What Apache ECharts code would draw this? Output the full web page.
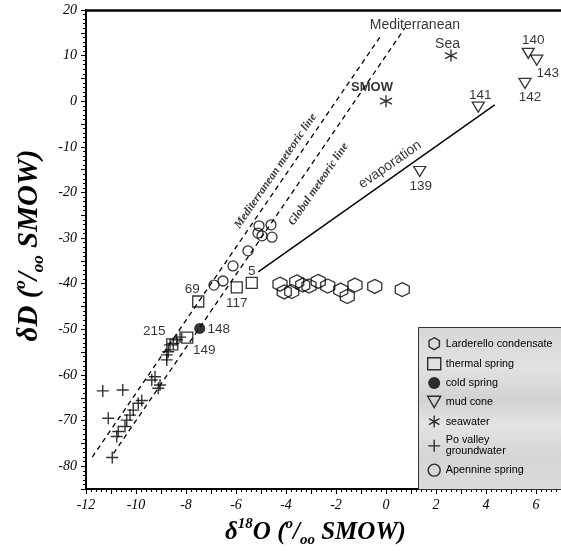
<!DOCTYPE html>
<html><head><meta charset="utf-8">
<script src="https://cdn.jsdelivr.net/npm/echarts@6/dist/echarts.min.js"></script>
<style>html,body{margin:0;padding:0;background:#fff}#c{width:561px;height:551px}</style>
</head><body><div id="c"></div>
<script>
// ---- data (δ18O, δD) ----
const larderello = [[-4.24,-40.1],[-4.07,-41.8],[-3.77,-41.7],[-3.57,-39.6],[-3.33,-40.3],[-3.08,-40.5],[-2.71,-39.5],[-2.33,-40.5],[-1.81,-41.4],[-1.55,-42.8],[-1.24,-40.3],[-0.45,-40.6],[0.65,-41.3]];
const thermal = [[-7.51,-43.9],[-5.97,-40.8],[-5.37,-39.8],[-8.55,-53.3],[-7.95,-51.8]];
const thermalNames = ['69','117','5','215','149'];
const cold = [[-7.45,-49.8]];
const coldNames = ['148'];
const mudCone = [[5.69,10.5],[6.03,9.0],[5.56,3.9],[3.69,-1.3],[1.35,-15.4]];
const mudNames = ['140','143','142','141','139'];
const seawater = [[2.6,10.0],[0.0,0.0]];
const seaNames = ['Mediterranean\nSea','SMOW'];
const poValley = [[-11.33,-63.5],[-10.53,-63.3],[-11.11,-69.5],[-10.95,-78.1],[-10.71,-72.4],[-10.77,-73.5],[-10.44,-71.3],[-10.37,-69.9],[-10.24,-68.8],[-10.11,-67.7],[-9.91,-66.2],[-9.77,-65.6],[-9.37,-61.1],[-9.24,-60.4],[-9.04,-62.2],[-9.11,-62.9],[-8.77,-56.7],[-8.77,-55.6],[-8.71,-54.9],[-8.64,-53.4],[-8.51,-53.1],[-8.37,-52.3],[-8.24,-51.7]];
const apennine = [[-5.08,-27.3],[-4.6,-27.1],[-5.12,-28.9],[-4.96,-29.5],[-4.56,-29.8],[-5.52,-32.8],[-6.12,-36.1],[-6.52,-39.4],[-6.88,-40.3]];
const mmwl = [[-11.75,-78.0],[-0.25,14.0]];    // Mediterranean meteoric line
const gmwl = [[-10.9,-77.2],[0.75,16.0]];      // Global meteoric line
const evapArrow = [[-5.11,-37.4],[4.35,-0.8]];
const annotations = [
  {text:'Mediterranean meteoric line', at:[-4.42,-15.3]},
  {text:'Global meteoric line', at:[-2.7,-18.2]},
  {text:'evaporation', at:[0.16,-13.9]}
];
const xRange = [-12, 7], yRange = [-85, 20];

// ---- styles ----
const serif = 'Liberation Serif', sans = 'Liberation Sans';
const hexPath = 'path://M5,0 L9.33,2.5 L9.33,7.5 L5,10 L0.67,7.5 L0.67,2.5 Z';
const triPath = 'path://M0,0 L10,0 L5,8.66 Z';
const plusPath = 'path://M5,0 L5,10 M0,5 L10,5';
const astPath = 'path://M5,0 L5,10 M0.67,2.5 L9.33,7.5 M0.67,7.5 L9.33,2.5';
const open = {color:'transparent', borderColor:'#000', borderWidth:1.3};
const numLabel = {show:true, position:'inside', fontFamily:sans, fontSize:13.5, color:'#000'};
const thermalOffsets = {'69':[-6,-12],'117':[0,16],'5':[0,-12],'215':[-18,-13],'149':[17,13]};
const coldOffsets = {'148':[19,1]};
const mudOffsets = {'140':[5,-13],'143':[11,13],'142':[5,14],'141':[2,-12],'139':[1,15]};
const annRotate = {'Mediterranean meteoric line':55.6,'Global meteoric line':55.6,'evaporation':35};

function labelled(points, names, offsets) {
  return points.map((p, i) => ({value:p, label:Object.assign({}, numLabel, {formatter:names[i], offset:offsets[names[i]]})}));
}
const seaData = seawater.map((p, i) => ({value:p, label: i === 0
  ? {show:true, position:'inside', formatter:seaNames[i], align:'right', fontFamily:sans, fontSize:14, lineHeight:19, color:'#000', offset:[9,-21]}
  : {show:true, position:'inside', formatter:seaNames[i], fontFamily:sans, fontWeight:'bold', fontSize:13, color:'#000', offset:[-14,-14]}}));
const annData = annotations.map(a => ({value:a.at, label:{show:true, position:'inside', formatter:a.text, rotate:annRotate[a.text],
  fontFamily: a.text === 'evaporation' ? sans : serif, fontStyle: a.text === 'evaporation' ? 'normal' : 'italic',
  fontWeight: a.text === 'evaporation' ? 'normal' : 'bold', fontSize: a.text === 'evaporation' ? 14 : 11.6, color:'#000'}}));

const tickFont = {fontFamily:serif, fontStyle:'italic', fontSize:14, color:'#000'};
function titleRich(big, small) {
  const base = {fontFamily:serif, fontStyle:'italic', fontWeight:'bold', color:'#000'};
  return {
    t:Object.assign({fontSize:big, lineHeight:big + 6}, base),
    s:Object.assign({fontSize:small, lineHeight:small, verticalAlign:'top'}, base),
    b:Object.assign({fontSize:small, lineHeight:small, verticalAlign:'bottom'}, base)
  };
}

const chart = echarts.init(document.getElementById('c'), null, {renderer:'canvas'});
chart.setOption({
  animation:false,
  backgroundColor:'#fff',
  grid:{left:86, right:0, top:10, bottom:62, containLabel:false, outerBoundsMode:'none'},
  xAxis:[{
    type:'value', min:xRange[0], max:xRange[1], interval:1,
    name:'{t|δ}{s|18}{t|O (}{s|o}{t|/}{b|oo}{t| SMOW)}', nameLocation:'middle', nameGap:25,
    nameTextStyle:{rich:titleRich(25, 15), padding:[0,16,0,0]},
    axisLine:{onZero:false, lineStyle:{color:'#000', width:2}},
    axisTick:{length:5, lineStyle:{color:'#000', width:1}},
    minorTick:{show:true, splitNumber:5, length:3, lineStyle:{color:'#000', width:1}},
    axisLabel:Object.assign({margin:9, formatter:v => (Math.round(v) % 2 === 0 ? String(v) : '')}, tickFont),
    splitLine:{show:false}
  },{
    type:'value', position:'top', min:xRange[0], max:xRange[1],
    axisLine:{onZero:false, lineStyle:{color:'#000', width:2.5}}, axisTick:{show:false}, axisLabel:{show:false}, splitLine:{show:false}
  }],
  yAxis:{
    type:'value', min:yRange[0], max:yRange[1], interval:5,
    name:'{t|δD (}{s|o}{t|/}{b|oo}{t| SMOW)}', nameLocation:'middle', nameGap:37, nameRotate:90,
    nameTextStyle:{rich:titleRich(29, 17), padding:[0,0,0,8]},
    axisLine:{onZero:false, lineStyle:{color:'#000', width:2}},
    axisTick:{length:5, lineStyle:{color:'#000', width:1}},
    minorTick:{show:true, splitNumber:5, length:3, lineStyle:{color:'#000', width:1}},
    axisLabel:Object.assign({margin:9, formatter:v => (Math.round(v) % 10 === 0 ? String(v) : '')}, tickFont),
    splitLine:{show:false}
  },
  legend:{
    orient:'vertical', left:422, top:332, z:10,
    itemWidth:13, itemHeight:12, itemGap:6.6, itemStyle:{borderWidth:1.4},
    textStyle:{fontFamily:sans, fontSize:10.8, color:'#000', lineHeight:11},
    data:['Larderello condensate','thermal spring','cold spring','mud cone','seawater','Po valley\ngroundwater','Apennine spring']
  },
  graphic:[{
    type:'rect', z:1, left:418, top:327, silent:true,
    shape:{width:143, height:162},
    style:{fill:new echarts.graphic.LinearGradient(0,0,0,1,[
      {offset:0,color:'#d6d6d6'},{offset:0.25,color:'#e2e2e2'},{offset:0.45,color:'#d2d2d2'},
      {offset:0.6,color:'#e4e4e4'},{offset:0.8,color:'#d4d4d4'},{offset:1,color:'#dcdcdc'}]),
      stroke:'#333', lineWidth:1}
  }],
  series:[
    {name:'mmwl', type:'line', data:mmwl, symbol:'none', silent:true, z:1, lineStyle:{color:'#000', width:1.3, type:[5,4]}},
    {name:'gmwl', type:'line', data:gmwl, symbol:'none', silent:true, z:1, lineStyle:{color:'#000', width:1.3, type:[5,4]}},
    {name:'Larderello condensate', type:'scatter', data:larderello, symbol:hexPath, symbolSize:14, itemStyle:open},
    {name:'thermal spring', type:'scatter', data:labelled(thermal, thermalNames, thermalOffsets), symbol:'rect', symbolSize:11, itemStyle:open},
    {name:'cold spring', type:'scatter', data:labelled(cold, coldNames, coldOffsets), symbol:'circle', symbolSize:11, itemStyle:{color:'#000'}},
    {name:'mud cone', type:'scatter', data:labelled(mudCone, mudNames, mudOffsets), symbol:triPath, symbolSize:[12,10], itemStyle:open},
    {name:'seawater', type:'scatter', data:seaData, symbol:astPath, symbolSize:12, itemStyle:{color:'transparent', borderColor:'#000', borderWidth:1.4}},
    {name:'Po valley\ngroundwater', type:'scatter', data:poValley, symbol:plusPath, symbolSize:12, itemStyle:{color:'transparent', borderColor:'#000', borderWidth:1.4}},
    {name:'Apennine spring', type:'scatter', data:apennine, symbol:'circle', symbolSize:10, itemStyle:open},
    {name:'annotations', type:'scatter', data:annData, symbolSize:0, silent:true,
      markLine:{silent:true, symbol:['none','arrow'], symbolSize:[0,11], label:{show:false},
        lineStyle:{color:'#000', width:1.4, type:'solid'},
        data:[[{coord:evapArrow[0]},{coord:evapArrow[1]}]]}}
  ]
});
</script></body></html>
